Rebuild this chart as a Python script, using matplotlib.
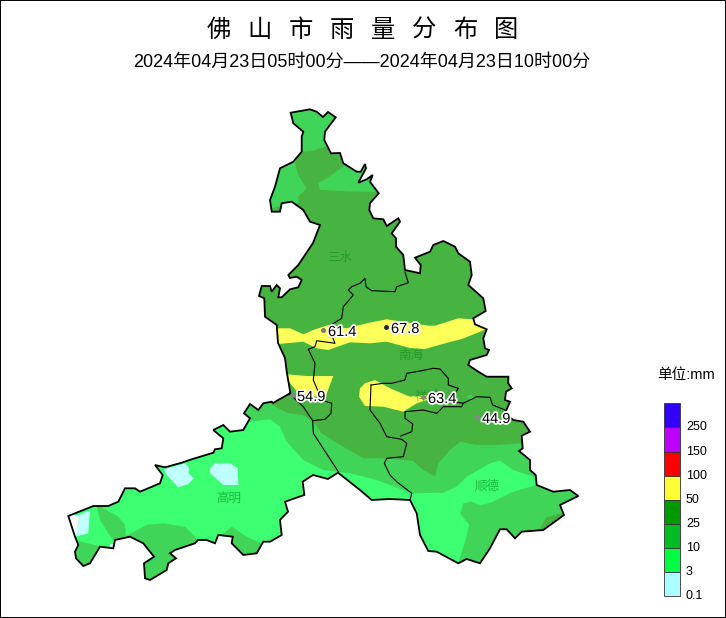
import matplotlib
matplotlib.use('Agg')
import matplotlib.pyplot as plt
from matplotlib.patches import Polygon
import matplotlib.patheffects as pe

plt.rcParams['font.family'] = ['Liberation Sans', 'Noto Sans CJK SC', 'DejaVu Sans']

title_chars = ['佛', '山', '市', '雨', '量', '分', '布', '图']
subtitle = '2024年04月23日05时00分——2024年04月23日10时00分'

# map data (pixel coordinates)
city_outline = [
    (290.7, 112.7), (310, 109.3), (316.7, 111.7), (323, 117), (328, 112), (335.7, 117.3), (325, 131.7), (324.3, 140),
    (331, 153.3), (340, 153), (343.3, 163.3), (356.7, 171.7), (360.7, 171.7), (365, 164), (366, 168.3), (358.3, 182.7),
    (366.7, 179.3), (372.7, 175), (370, 181.7), (378.7, 193.3), (370, 203.3), (369.3, 210), (373.3, 218.3), (383.3, 219.3),
    (386.7, 226), (398.3, 218.3), (400, 221.7), (391.7, 233.3), (396, 238.3), (396, 246.7), (403.3, 255), (405, 270),
    (420, 273.3), (420.7, 265), (415, 257.7), (430, 251.7), (433.3, 245), (443.3, 241), (455, 246.7), (458.3, 253.3),
    (470, 261.7), (471.7, 275), (468.3, 285), (483.3, 298.3), (485.7, 311), (473.3, 318.3), (475, 324.3), (486.7, 329.3),
    (483.3, 338.3), (485, 348.3), (489, 350), (486.7, 355), (470, 360), (468.3, 365), (478.3, 371.7), (486.7, 376.7),
    (508.3, 376.7), (508.3, 383.3), (511.7, 388.3), (506, 391.7), (505, 400), (510, 401.7), (505, 413.3), (513.3, 420),
    (523.3, 421.7), (530, 431.7), (521.7, 435.7), (522.7, 448.3), (519, 451), (530, 460), (530, 470), (535.7, 475),
    (536.7, 485), (553.3, 491.7), (570, 490), (578.3, 496), (560, 505), (564, 515), (543.3, 530), (521.7, 531.7),
    (515, 538.3), (506.7, 529.3), (500, 529.3), (490, 548.3), (480, 563.3), (466.7, 559), (458.3, 563.3), (436.7, 551.7),
    (428.3, 551), (420, 535), (416.7, 513.3), (410, 500), (390, 499), (371.7, 500), (360, 490), (338, 472.7),
    (328, 479), (313, 475), (302.7, 481.7), (304.3, 495), (285, 501.7), (288, 511.7), (280, 520), (281.7, 535),
    (270, 541.7), (263.3, 541.7), (256.7, 553.3), (243.3, 555), (231.7, 543.3), (232.7, 536.7), (218.3, 535), (215, 543.3),
    (206.7, 540), (198, 540), (195, 543.3), (175, 550), (170, 553.3), (176, 558.3), (168.3, 563.3), (166.7, 570),
    (150, 580), (145, 578.3), (144, 563.3), (154, 556.7), (143.3, 543.3), (130, 536.7), (115, 540), (113.3, 548.3),
    (100, 546.7), (90, 563.3), (83.3, 566), (76, 558.3), (75, 551.7), (78.3, 545), (75, 536.7), (68.3, 516),
    (93.3, 506), (108.3, 506), (118.3, 501.7), (125, 488.3), (135, 488.3), (140, 491.7), (160, 483.3), (162.7, 475),
    (155, 465), (165, 467.3), (181.7, 462.7), (191.7, 459.3), (213.3, 452.7), (215, 449.3), (221.7, 448.3), (223.3, 438.3),
    (213.3, 430), (223.3, 425), (230, 431.7), (243.3, 430), (250, 418.3), (244, 413.3), (250, 404), (258.3, 410),
    (263.3, 403.3), (271.7, 401.7), (273, 403), (290, 393.3), (290.7, 395), (286.7, 371.7), (285, 358), (278, 343),
    (276.7, 325), (265, 316.7), (264.3, 298.3), (259, 296), (261.7, 286), (270, 286), (271.7, 291.7), (276.7, 285),
    (280, 288.3), (278.3, 297.3), (281.7, 297.3), (290, 289.3), (298.3, 287.3), (301.7, 280), (296.7, 276.7), (290, 278),
    (288.3, 275), (298.3, 265), (313, 243), (320, 225), (310, 221.7), (303.3, 210), (291.7, 201.7), (281.7, 203.3),
    (280, 211.7), (271.7, 211.7), (270, 200), (275, 186.7), (280, 168.3), (293.3, 161.7), (301.7, 151.7), (301.7, 136.7),
    (303.3, 131.7), (293.3, 123.3),
]

district_lines = [
    [(405, 272), (408.3, 282.7), (396.7, 286.7), (395, 291.7), (371.7, 290.7), (366, 286.7), (365, 278.3), (360, 283.3),
     (351.7, 286.7), (348.3, 290), (353.3, 295), (343.3, 306.7), (341.7, 318.3), (328.3, 326.7), (335, 343.3), (316.7, 340.7),
     (315, 346.7), (308.3, 349.3), (315, 363.3), (313.3, 380), (321.7, 400), (331.7, 403.3), (331, 413.3), (325, 419.3),
     (312.7, 420.7), (313.3, 433.3), (338.3, 471.7)],
    [(312.7, 420.7), (303.3, 406.7), (290.7, 395)],
    [(371, 385), (383.3, 383.3), (391.7, 383.3), (405, 380), (406.7, 373.3), (421.7, 370.7), (433.3, 368.3), (440, 369),
     (448.3, 378.3), (448.3, 385), (458.3, 388.3), (453.3, 396.7), (455, 401.7), (463.3, 403.3), (461.7, 406.7), (443.3, 406.7),
     (436.7, 413.3), (423.3, 410), (405, 411.7), (405, 418.3), (412.7, 424), (411.7, 431.7), (400.7, 436)],
    [(371, 385), (370, 410), (380, 423.3), (386.7, 436.7), (401.7, 439.3), (406.7, 443.3), (403.3, 456.7), (386.7, 458.3),
     (384.3, 463.3), (390, 475), (396.7, 481.7), (411.7, 493.3), (410, 500)],
    [(463.3, 403.3), (476.7, 396.7), (490, 397.3), (492.7, 405), (505, 410)],
]

# rain areas, one list per band
band_10_25 = [
    [(260, 100), (340, 100), (340, 146), (325, 146.7), (313.3, 150.7), (300.7, 151.7), (295, 163.3), (298.3, 175),
     (306.7, 188.3), (298.3, 196.7), (298.3, 203), (260, 210)],
    [(343.3, 166.7), (331.7, 175), (318.3, 183.3), (320, 190), (356.7, 191.7), (400, 192), (400, 160), (343, 160)],
    [(260, 395), (273, 405), (287, 413), (303, 415), (313.3, 421.7), (321.7, 433.3), (343.3, 446.7), (363.3, 458.3),
     (386.7, 458.3), (413.3, 461), (423.3, 470), (435, 476.7), (438.3, 463.3), (450, 450), (460, 441.7), (476.7, 445),
     (496.7, 445), (521.7, 443.3), (600, 443), (600, 600), (50, 600), (50, 395)],
    [(466.7, 396.7), (471.7, 394.3), (473.3, 398.3), (470, 401.7)],
]
band_3_10 = [
    [(250, 421.7), (270, 419.3), (280, 426.7), (286.7, 441.7), (303.3, 460), (323.3, 470), (350, 473.3), (376.7, 480),
     (403.3, 490), (411.7, 493.3), (443.3, 492.7), (456.7, 486.7), (466.7, 476.7), (490, 463.3), (500, 460.7), (513.3, 470),
     (533.3, 476.7), (536.7, 485), (513.3, 491.7), (490, 503), (480, 505), (471.7, 501.7), (463.3, 503.3), (460, 513.3),
     (469.3, 525), (465, 541.7), (458.3, 563.3), (436.7, 566.7), (50, 600), (50, 420)],
]
band_10_25_south = [
    [(100, 495), (103.3, 508.3), (118.3, 516.7), (125, 525), (126, 536), (118.3, 539.3), (113.3, 540), (108.3, 533.3),
     (100, 520), (96.7, 506)],
    [(126, 536), (146.7, 525), (163.3, 523.3), (185, 526.7), (198.3, 540), (200, 590), (116.7, 590), (118, 539)],
    [(220, 536.7), (231.7, 526.7), (246.7, 536.7), (261.7, 543.3), (263, 590), (220, 590)],
    [(75, 540), (95, 545), (101.7, 546.7), (86.7, 570), (70, 566.7)],
]
band_0_3 = [
    [(164, 469.3), (185, 463.3), (189.3, 468.3), (188.3, 473.3), (194, 478.3), (188.3, 484), (178.3, 487.3), (166.7, 475)],
    [(210, 468.3), (215, 463.3), (230, 463.3), (237.7, 468.3), (238.3, 485), (223.3, 485), (210, 473.3)],
    [(78.3, 515), (90, 510.7), (88.3, 533.3), (75, 536.7), (78.3, 523.3)],
    [(110, 544), (114, 544), (114, 547.7), (110, 547.7)],
]
no_rain = [[(60, 515), (78.3, 515), (78.3, 523.3), (75, 536.7), (60, 540)]]
band_25_50_south = [[(540, 528.3), (546.7, 517.3), (561.7, 513), (566, 516), (543.3, 531)]]
band_50_100 = [
    [(270, 333), (276.7, 328.3), (290, 328.3), (303.3, 334.3), (313.3, 330), (328.3, 325), (346.7, 328.3), (366.7, 323.3),
     (386.7, 319.3), (413.3, 323.3), (428, 325.7), (435, 325.7), (458.3, 318.3), (473.3, 319.3), (487, 329), (461.7, 339),
     (445, 343.3), (425, 349), (410, 348), (386.7, 341.7), (370, 343.3), (350, 342.3), (328.3, 350), (316.7, 348.3),
     (303.3, 341.7), (278.3, 344)],
    [(283, 374), (306.7, 376), (333.3, 376), (325, 398.3), (298, 393), (293, 386.7)],
    [(360, 388.3), (365, 383.3), (375, 380), (390, 388.3), (410, 396.7), (426.7, 395), (426.7, 400), (416.7, 403.3),
     (403.3, 411.7), (383.3, 406.7), (365, 406), (359, 396.7)],
]

stations = ['61.4', '67.8', '54.9', '63.4', '44.9']
station_x = [323, 386, 292, 423, 477]
station_y = [330, 327, 395, 397, 417]
station_dot = ['#777777', '#222244', '#888888', '#888888', '#888888']

districts = ['三水', '南海', '禅城', '顺德', '高明']
district_x = [340, 411, 427, 487, 229]
district_y = [257.5, 356, 397, 486, 498.5]

legend_labels = ['250', '150', '100', '50', '25', '10', '3', '0.1']
legend_colors = ['#3300ff', '#bb00ff', '#ff0000', '#ffff33', '#009900', '#00bb22', '#00ff44', '#aaffff']

fig = plt.figure(figsize=(7.26, 6.18), dpi=100)
ax = fig.add_axes([0, 0, 1, 1])
ax.set_xlim(0, 726)
ax.set_ylim(618, 0)
ax.set_xticks([])
ax.set_yticks([])
for s in ax.spines.values():
    s.set_linewidth(1.4)

outline = Polygon(city_outline, closed=True, facecolor='#47b341', edgecolor='none', zorder=1)
ax.add_patch(outline)

layers = [(band_10_25, '#40d558'), (band_3_10, '#3cff72'), (band_10_25_south, '#40d558'), (band_0_3, '#bfffff'),
          (no_rain, 'white'), (band_25_50_south, '#47b341'), (band_50_100, '#ffff5a')]
z = 2
for polys, col in layers:
    for p in polys:
        patch = Polygon(p, closed=True, facecolor=col, edgecolor='none', zorder=z)
        ax.add_patch(patch)
        patch.set_clip_path(outline)
    z += 1

ax.add_patch(Polygon(city_outline, closed=True, facecolor='none', edgecolor='black', linewidth=1.3, zorder=12))
for line in district_lines:
    ax.plot([q[0] for q in line], [q[1] for q in line], color='black', linewidth=0.8, zorder=11)

for name, x, y in zip(districts, district_x, district_y):
    ax.text(x, y, name, color='#0a8a1e', alpha=0.6, fontsize=9, ha='center', va='center', zorder=13)

halo = [pe.withStroke(linewidth=2.5, foreground='white')]
for label, x, y, c in zip(stations, station_x, station_y, station_dot):
    ax.plot(x, y, 'o', color=c, markersize=2.5, zorder=14)
    ax.text(x + 5, y + 2, label, color='black', fontsize=10.5, ha='left', va='center', path_effects=halo, zorder=15)

for i, ch in enumerate(title_chars):
    ax.text(218.7 + i * 41.1, 31, ch, fontsize=17.5, ha='center', va='center')
ax.text(362, 62, subtitle, fontsize=13, ha='center', va='center')

# legend boxes
for i, (label, col) in enumerate(zip(legend_labels, legend_colors)):
    ax.bar(672, 24.1, width=15.5, bottom=403.3 + i * 24.1, color=col, edgecolor='#333333', linewidth=0.6)
    ax.text(686, 427.5 + i * 24.1, label, fontsize=9, ha='left', va='center')
ax.set_xlim(0, 726)
ax.set_ylim(618, 0)
ax.text(686.5, 375, '单位:mm', fontsize=10.5, ha='center', va='center')

fig.savefig('out.png', dpi=100)
